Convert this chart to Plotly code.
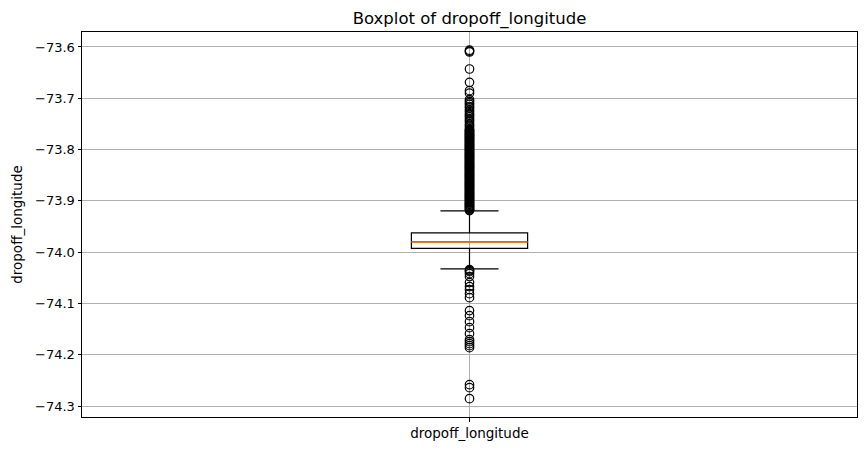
import plotly.graph_objects as go

category = ["dropoff_longitude"]
q1 = [-73.9926]
median = [-73.9801]
q3 = [-73.9626]
lower_whisker = [-74.0327]
upper_whisker = [-73.9197]

upper_outliers = [
    -73.6062, -73.6080, -73.6097, -73.6429, -73.6690, -73.6852, -73.6900,
    -73.7027, -73.7060, -73.7090, -73.7120, -73.7160, -73.7190, -73.7230,
    -73.7260, -73.7300, -73.7330, -73.7360, -73.7400, -73.7430, -73.7460,
    -73.7500, -73.7530, -73.7560, -73.7600, -73.7630, -73.7660, -73.7690,
    -73.7720, -73.7750, -73.7780, -73.7810, -73.7840, -73.7870, -73.7900,
    -73.7930, -73.7960, -73.7990, -73.8020, -73.8050, -73.8080, -73.8110,
    -73.8140, -73.8170, -73.8200, -73.8230, -73.8260, -73.8290, -73.8320,
    -73.8350, -73.8380, -73.8410, -73.8440, -73.8470, -73.8500, -73.8530,
    -73.8560, -73.8590, -73.8620, -73.8650, -73.8680, -73.8710, -73.8740,
    -73.8770, -73.8800, -73.8830, -73.8860, -73.8890, -73.8920, -73.8950,
    -73.8980, -73.9010, -73.9040, -73.9070, -73.9100, -73.9130, -73.9160,
    -73.9190,
    -73.7615, -73.7645, -73.7675, -73.7705, -73.7735, -73.7765, -73.7795,
    -73.7825, -73.7855, -73.7885, -73.7915, -73.7945, -73.7975, -73.8005,
    -73.8035, -73.8065, -73.8095, -73.8125, -73.8155, -73.8185, -73.8215,
    -73.8245, -73.8275, -73.8305, -73.8335, -73.8365, -73.8395, -73.8425,
    -73.8455, -73.8485, -73.8515, -73.8545, -73.8575, -73.8605, -73.8635,
    -73.8665, -73.8695, -73.8725, -73.8755, -73.8785, -73.8815, -73.8845,
    -73.8875, -73.8905, -73.8935, -73.8965, -73.8995, -73.9025, -73.9055,
    -73.9085, -73.9115, -73.9145, -73.9175,
]
lower_outliers = [
    -74.0341, -74.0360, -74.0380, -74.0419, -74.0477, -74.0594, -74.0672,
    -74.0731, -74.0809, -74.0887, -74.1140, -74.1238, -74.1355, -74.1472,
    -74.1589, -74.1706, -74.1745, -74.1784, -74.1823, -74.1862, -74.2583,
    -74.2642, -74.2856,
]
y_ticks = [-73.6, -73.7, -73.8, -73.9, -74.0, -74.1, -74.2, -74.3]

outliers = upper_outliers + lower_outliers
pos = 1

fig = go.Figure()
fig.add_trace(go.Box(
    x=[pos], q1=q1, median=median, q3=q3,
    lowerfence=lower_whisker, upperfence=upper_whisker,
    width=0.15, whiskerwidth=0.5,
    fillcolor="rgba(0,0,0,0)",
    line=dict(color="black", width=1.2),
    boxpoints=False, showlegend=False, hoverinfo="skip",
))
fig.add_trace(go.Scatter(
    x=[pos] * len(outliers), y=outliers, mode="markers",
    marker=dict(symbol="circle-open", size=8.5, color="black",
                line=dict(color="black", width=1.2)),
    showlegend=False,
))
# median line in orange
fig.add_trace(go.Scatter(
    x=[pos - 0.075, pos + 0.075], y=[median[0], median[0]], mode="lines",
    line=dict(color="#ff7f0e", width=1.6), showlegend=False,
))

font_family = "DejaVu Sans"
fig.update_layout(
    width=858, height=443,
    margin=dict(l=74, r=9, t=24, b=34),
    paper_bgcolor="white", plot_bgcolor="white",
    font=dict(family=font_family, size=13.5, color="black"),
    title=dict(text="Boxplot of dropoff_longitude", x=0.5, xref="paper",
               y=1 - 10 / 443, yanchor="middle",
               font=dict(size=16.5, family=font_family, color="black")),
)
fig.update_xaxes(
    range=[0.5, 1.5], tickvals=[pos], ticktext=category,
    showgrid=True, gridcolor="#b0b0b0", gridwidth=0.8,
    showline=True, linecolor="black", linewidth=1, mirror=True,
    ticks="outside", ticklen=3.5, tickcolor="black",
    zeroline=False, tickfont=dict(size=13.5),
)
fig.update_yaxes(
    range=[-74.3214, -73.5708], tickvals=y_ticks,
    tickformat=".1f",
    showgrid=True, gridcolor="#b0b0b0", gridwidth=0.8,
    showline=True, linecolor="black", linewidth=1, mirror=True,
    ticks="outside", ticklen=3.5, tickcolor="black",
    zeroline=False, tickfont=dict(size=13),
    title=dict(text="dropoff_longitude", font=dict(size=13.5), standoff=9),
)

fig.write_html("out.html")
